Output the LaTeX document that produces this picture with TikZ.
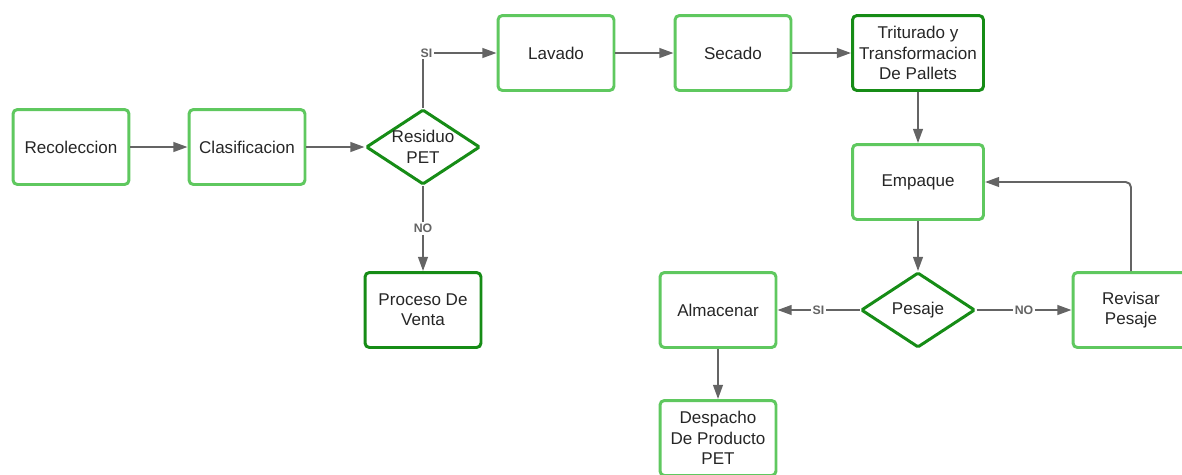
\documentclass[tikz,border=0pt]{standalone}
\usepackage{fontspec}
\setmainfont{Liberation Sans}
\usetikzlibrary{shapes.geometric,arrows.meta}
\definecolor{verdeclaro}{RGB}{95,200,95}
\definecolor{verdeosc}{RGB}{22,140,22}
\definecolor{gris}{RGB}{100,100,100}
\begin{document}
\begin{tikzpicture}[x=0.02cm,y=-0.02cm,font=\fontsize{9.7}{11.6}\selectfont,text=black!85,
    caja/.style={draw=verdeclaro,line width=1.7pt,rounded corners=2.5pt,minimum width=2.32cm,minimum height=1.5cm,align=center,inner sep=1pt},
    cajaosc/.style={caja,draw=verdeosc},
    rombo/.style={diamond,aspect=1.5,draw=verdeosc,line width=1.7pt,rounded corners=0.8pt,minimum width=2.28cm,minimum height=1.5cm,align=center,inner sep=0pt},
    flecha/.style={draw=gris,line width=1.1pt,-{Triangle[length=8pt,width=5.5pt]}},
    etiq/.style={fill=white,inner sep=1pt,text=gris,font=\fontsize{7}{8}\selectfont\bfseries}]
    \useasboundingbox (0,0) rectangle (1182,474);

    \foreach \nombre/\x/\y/\texto in {reco/71/147/Recoleccion, clas/247/147/Clasificacion,
        lav/556/53/Lavado, sec/733/53/Secado, alm/718/310/Almacenar,
        rev/1131/310/{Revisar\\Pesaje}, desp/718/438/{Despacho\\De Producto\\PET}}
        \node[caja] (\nombre) at (\x,\y) {\texto};
    \node[caja,minimum width=2.62cm] (emp) at (918,182) {Empaque};
    \node[cajaosc,minimum width=2.62cm] (trit) at (918,53) {Triturado y\\Transformacion\\De Pallets};
    \node[cajaosc] (venta) at (423,310) {Proceso De\\Venta};
    \node[rombo] (res) at (423,147) {Residuo\\PET};
    \node[rombo] (pes) at (918,310) {Pesaje};

    \draw[flecha] (reco) -- (clas);
    \draw[flecha] (clas) -- (res);
    \draw[flecha] (res.north) |- node[etiq,pos=0.5,xshift=2pt] {SI} (lav);
    \draw[flecha] (lav) -- (sec);
    \draw[flecha] (sec) -- (trit);
    \draw[flecha] (res) -- node[etiq] {NO} (venta);
    \draw[flecha] (trit) -- (emp);
    \draw[flecha] (emp) -- (pes);
    \draw[flecha] (pes) -- node[etiq] {SI} (alm);
    \draw[flecha] (pes) -- node[etiq] {NO} (rev);
    \draw[flecha,rounded corners=3pt] (rev.north) |- (emp);
    \draw[flecha] (alm) -- (desp);
\end{tikzpicture}
\end{document}
